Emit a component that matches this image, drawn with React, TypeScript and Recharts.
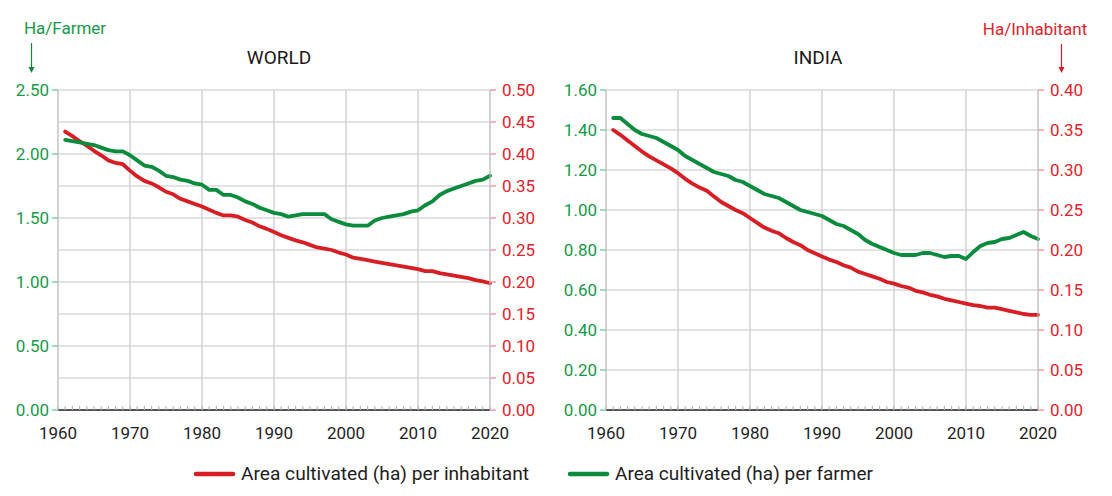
import { CartesianGrid, Line, LineChart, XAxis, YAxis } from "recharts"

// years shown on the chart (1961-2020)
const years = [
  1961, 1962, 1963, 1964, 1965, 1966, 1967, 1968, 1969, 1970,
  1971, 1972, 1973, 1974, 1975, 1976, 1977, 1978, 1979, 1980,
  1981, 1982, 1983, 1984, 1985, 1986, 1987, 1988, 1989, 1990,
  1991, 1992, 1993, 1994, 1995, 1996, 1997, 1998, 1999, 2000,
  2001, 2002, 2003, 2004, 2005, 2006, 2007, 2008, 2009, 2010,
  2011, 2012, 2013, 2014, 2015, 2016, 2017, 2018, 2019, 2020,
]

// WORLD
const worldPerFarmer = [
  2.11, 2.1, 2.09, 2.08, 2.07, 2.05, 2.03, 2.02, 2.02, 1.99,
  1.95, 1.91, 1.9, 1.87, 1.83, 1.82, 1.8, 1.79, 1.77, 1.76,
  1.72, 1.72, 1.68, 1.68, 1.66, 1.63, 1.61, 1.58, 1.56, 1.54,
  1.53, 1.51, 1.52, 1.53, 1.53, 1.53, 1.53, 1.49, 1.47, 1.45,
  1.44, 1.44, 1.44, 1.48, 1.5, 1.51, 1.52, 1.53, 1.55, 1.56,
  1.6, 1.63, 1.68, 1.71, 1.73, 1.75, 1.77, 1.79, 1.8, 1.83,
]
const worldPerInhabitant = [
  0.435, 0.428, 0.42, 0.413, 0.405, 0.398, 0.39, 0.386, 0.384, 0.374,
  0.365, 0.358, 0.354, 0.348, 0.341, 0.337, 0.33, 0.326, 0.322, 0.318,
  0.313, 0.308, 0.304, 0.304, 0.302, 0.297, 0.293, 0.287, 0.283, 0.278,
  0.273, 0.269, 0.265, 0.262, 0.258, 0.254, 0.252, 0.25, 0.246, 0.243,
  0.238, 0.236, 0.234, 0.232, 0.23, 0.228, 0.226, 0.224, 0.222, 0.22,
  0.217, 0.217, 0.214, 0.212, 0.21, 0.208, 0.206, 0.203, 0.201, 0.198,
]

// INDIA
const indiaPerFarmer = [
  1.46, 1.46, 1.43, 1.4, 1.38, 1.37, 1.36, 1.34, 1.32, 1.3,
  1.27, 1.25, 1.23, 1.21, 1.19, 1.18, 1.17, 1.15, 1.14, 1.12,
  1.1, 1.08, 1.07, 1.06, 1.04, 1.02, 1.0, 0.99, 0.98, 0.97,
  0.95, 0.93, 0.92, 0.9, 0.88, 0.85, 0.83, 0.815, 0.8, 0.785,
  0.775, 0.775, 0.775, 0.785, 0.785, 0.775, 0.765, 0.77, 0.77, 0.755,
  0.79, 0.82, 0.835, 0.84, 0.855, 0.86, 0.875, 0.89, 0.87, 0.855,
]
const indiaPerInhabitant = [
  0.35, 0.344, 0.337, 0.33, 0.323, 0.317, 0.312, 0.307, 0.302, 0.296,
  0.289, 0.283, 0.278, 0.274, 0.267, 0.26, 0.255, 0.25, 0.246, 0.24,
  0.234, 0.228, 0.224, 0.221, 0.215, 0.21, 0.206, 0.2, 0.196, 0.192,
  0.188, 0.185, 0.181, 0.178, 0.173, 0.17, 0.167, 0.164, 0.16, 0.158,
  0.155, 0.153, 0.149, 0.147, 0.144, 0.142, 0.139, 0.137, 0.135, 0.133,
  0.131, 0.13, 0.128, 0.128, 0.126, 0.124, 0.122, 0.12, 0.119, 0.119,
]

// tick labels
const decadeTicks = [1960, 1970, 1980, 1990, 2000, 2010, 2020]
const yearTicks = [1960, ...years]
const worldLeftTicks = [0, 0.5, 1, 1.5, 2, 2.5]
const worldGrid = [0, 0.25, 0.5, 0.75, 1, 1.25, 1.5, 1.75, 2, 2.25, 2.5]
const worldRightTicks = [0, 0.05, 0.1, 0.15, 0.2, 0.25, 0.3, 0.35, 0.4, 0.45, 0.5]
const indiaLeftTicks = [0, 0.2, 0.4, 0.6, 0.8, 1, 1.2, 1.4, 1.6]
const indiaRightTicks = [0, 0.05, 0.1, 0.15, 0.2, 0.25, 0.3, 0.35, 0.4]

const RED = "#d81e25"
const GREEN = "#0b8b3c"
const GRID = "#c8c8c8"

type PanelProps = {
  left: number
  farmer: number[]
  inhabitant: number[]
  leftTicks: number[]
  gridTicks: number[]
  rightTicks: number[]
  leftMax: number
  rightMax: number
}

function Panel({ left, farmer, inhabitant, leftTicks, gridTicks, rightTicks, leftMax, rightMax }: PanelProps) {
  const rows = years.map((year, i) => ({ year, farmer: farmer[i], inhabitant: inhabitant[i] }))
  return (
    <div style={{ position: "absolute", left, top: 0 }}>
      <LineChart width={550} height={452} data={rows} margin={{ top: 90, right: 0, bottom: 0, left: 0 }}>
        <CartesianGrid
          yAxisId="left"
          stroke={GRID}
          strokeWidth={1.2}
          horizontalValues={gridTicks}
          verticalValues={decadeTicks}
        />
        <XAxis
          dataKey="year"
          type="number"
          domain={[1960, 2020]}
          ticks={yearTicks}
          interval={0}
          height={42}
          tickSize={-4}
          tickMargin={21}
          tickLine={{ stroke: "#b0b0b0" }}
          axisLine={{ stroke: "#2a2a2a", strokeWidth: 1.5 }}
          tick={{ fill: "#1e1e1e", fontSize: 17 }}
          tickFormatter={(v: number) => (v % 10 === 0 ? String(v) : "")}
        />
        <YAxis
          yAxisId="left"
          orientation="left"
          width={58}
          domain={[0, leftMax]}
          ticks={leftTicks}
          interval={0}
          tickSize={6}
          tickMargin={3}
          tick={{ fill: "#169a48", fontSize: 17 }}
          tickLine={{ stroke: "#86cf9f", strokeWidth: 1.5 }}
          axisLine={{ stroke: GRID }}
          tickFormatter={(v: number) => v.toFixed(2)}
        />
        <YAxis
          yAxisId="right"
          orientation="right"
          width={60}
          domain={[0, rightMax]}
          ticks={rightTicks}
          interval={0}
          tickSize={6}
          tickMargin={6}
          tick={{ fill: "#e0242b", fontSize: 17 }}
          tickLine={{ stroke: "#f29a9c", strokeWidth: 1.5 }}
          axisLine={{ stroke: GRID }}
          tickFormatter={(v: number) => v.toFixed(2)}
        />
        <Line
          yAxisId="right"
          dataKey="inhabitant"
          stroke={RED}
          strokeWidth={3.8}
          strokeLinejoin="round"
          strokeLinecap="round"
          dot={false}
          isAnimationActive={false}
        />
        <Line
          yAxisId="left"
          dataKey="farmer"
          stroke={GREEN}
          strokeWidth={3.8}
          strokeLinejoin="round"
          strokeLinecap="round"
          dot={false}
          isAnimationActive={false}
        />
      </LineChart>
    </div>
  )
}

export default function App() {
  return (
    <div
      style={{
        position: "absolute",
        left: 0,
        top: 0,
        width: 1112,
        height: 496,
        background: "#fff",
        fontFamily: "Roboto, sans-serif",
        overflow: "hidden",
      }}
    >
      <Panel
        left={0}
        farmer={worldPerFarmer}
        inhabitant={worldPerInhabitant}
        leftTicks={worldLeftTicks}
        gridTicks={worldGrid}
        rightTicks={worldRightTicks}
        leftMax={2.5}
        rightMax={0.5}
      />
      <Panel
        left={548}
        farmer={indiaPerFarmer}
        inhabitant={indiaPerInhabitant}
        leftTicks={indiaLeftTicks}
        gridTicks={indiaLeftTicks}
        rightTicks={indiaRightTicks}
        leftMax={1.6}
        rightMax={0.4}
      />
      {/* titles, unit labels, legend */}
      <svg
        width={1112}
        height={496}
        style={{ position: "absolute", left: 0, top: 0, pointerEvents: "none" }}
        fontFamily="Roboto, sans-serif"
      >
        <text x={279} y={57} textAnchor="middle" dominantBaseline="central" fontSize={19} fill="#1a1a1a">
          WORLD
        </text>
        <text x={818} y={57} textAnchor="middle" dominantBaseline="central" fontSize={19} fill="#1a1a1a">
          INDIA
        </text>

        <text x={65} y={28} textAnchor="middle" dominantBaseline="central" fontSize={17} fill="#169a48">
          Ha/Farmer
        </text>
        <line x1={31.5} x2={31.5} y1={43} y2={70} stroke={GREEN} strokeWidth={1.2} />
        <path d="M28.5,67 L34.5,67 L31.5,73 Z" fill={GREEN} />

        <text x={1035} y={29} textAnchor="middle" dominantBaseline="central" fontSize={17} fill="#e0242b">
          Ha/Inhabitant
        </text>
        <line x1={1061.5} x2={1061.5} y1={44} y2={70} stroke={RED} strokeWidth={1.2} />
        <path d="M1058.5,67 L1064.5,67 L1061.5,73 Z" fill={RED} />

        <line x1={196} x2={233} y1={474} y2={474} stroke={RED} strokeWidth={4.5} strokeLinecap="round" />
        <text
          x={241}
          y={474}
          dominantBaseline="central"
          fontSize={17.5}
          fill="#1e1e1e"
          textLength={288}
          lengthAdjust="spacingAndGlyphs"
        >
          Area cultivated (ha) per inhabitant
        </text>
        <line x1={570} x2={607} y1={474} y2={474} stroke={GREEN} strokeWidth={4.5} strokeLinecap="round" />
        <text
          x={615}
          y={474}
          dominantBaseline="central"
          fontSize={17.5}
          fill="#1e1e1e"
          textLength={258}
          lengthAdjust="spacingAndGlyphs"
        >
          Area cultivated (ha) per farmer
        </text>
      </svg>
    </div>
  )
}
